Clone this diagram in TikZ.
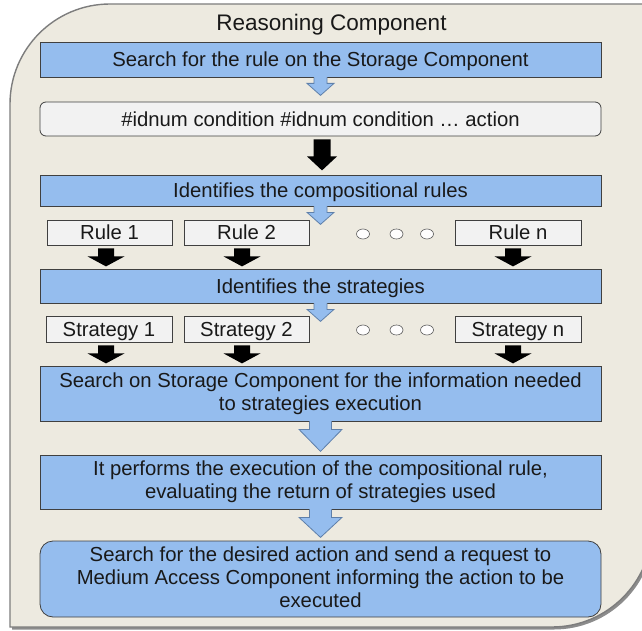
\documentclass[tikz,border=0pt]{standalone}
\usepackage{fontspec}
\setmainfont{Liberation Sans}
\usetikzlibrary{shapes.geometric}
\definecolor{framebg}{RGB}{237,234,224}
\definecolor{frameedge}{RGB}{125,125,125}
\definecolor{boxblue}{RGB}{149,189,238}
\definecolor{arrowedge}{RGB}{95,128,170}
\definecolor{txt}{RGB}{25,25,25}
\definecolor{lightbox}{RGB}{242,242,242}
\tikzset{
  base/.style={font=\fontsize{20.3}{23}\selectfont, text=txt, inner sep=0pt, align=center,
    execute at begin node={\rule{0pt}{19pt}}, execute at end node={\rule[-4.2pt]{0pt}{4.2pt}}},
  multi/.style={execute at begin node={\rule{0pt}{24pt}}},
  bluebox/.style={base, draw=black!75, line width=0.8pt, fill=boxblue, minimum width=561pt},
  greybox/.style={base, draw=black!75, line width=0.8pt, fill=lightbox},
  dotnode/.style={ellipse, draw=black!65, line width=0.6pt, fill=white!92!framebg, minimum width=13pt, minimum height=10pt, inner sep=0pt},
  pics/bluearr/.style n args={4}{code={
    \fill[boxblue] (-#1,-1) -- (-#1,#2) -- (-#3,#2) -- (0,#2+#4) -- (#3,#2) -- (#1,#2) -- (#1,-1) -- cycle;
    \draw[arrowedge, line width=0.8pt, line join=miter] (-#1,0) -- (-#1,#2) -- (-#3,#2) -- (0,#2+#4) -- (#3,#2) -- (#1,#2) -- (#1,0);
  }},
  pics/blackarr/.style n args={4}{code={
    \fill[black] (-#1,0) -- (-#1,#2) -- (-#3,#2) -- (0,#2+#4) -- (#3,#2) -- (#1,#2) -- (#1,0) -- cycle;
  }}
}
\begin{document}
\begin{tikzpicture}[x=1pt,y=-1pt]
\useasboundingbox (0,0) rectangle (642,631);
% outer frame with shadow
\fill[black!45] (12,629.5) -- (12,106) .. controls (12,50.8) and (56.8,6) .. (112,6) -- (654,6) -- (654,529.5) .. controls (654,584.7) and (609.2,629.5) .. (554,629.5) -- cycle;
\draw[frameedge, fill=framebg, line width=1.4pt] (10,627) -- (10,104) .. controls (10,48.8) and (54.8,4) .. (110,4) -- (652,4) -- (652,527) .. controls (652,582.2) and (607.2,627) .. (552,627) -- cycle;

\node[base, font=\fontsize{22.5}{26}\selectfont] (title) at (331.5,23.5) {Reasoning Component};

\node[bluebox, minimum height=35pt] (b1) at (320.5,59.5) {Search for the rule on the Storage Component};
\node[greybox, rounded corners=6pt, minimum width=561pt, minimum height=34pt] (g) at (320.5,119) {\#idnum condition \#idnum condition … action};
\node[bluebox, minimum height=31pt] (b2) at (320.5,190.5) {Identifies the compositional rules};

\node[greybox, minimum width=125pt, minimum height=25pt] (r1) at (109.5,232.5) {Rule 1};
\node[greybox, minimum width=125pt, minimum height=25pt] (r2) at (246.5,232.5) {Rule 2};
\node[greybox, minimum width=126pt, minimum height=25pt] (rn) at (518,232.5) {Rule n};
\node[dotnode] (rd1) at (363,234) {};
\node[dotnode] (rd2) at (396.5,234) {};
\node[dotnode] (rd3) at (427,234) {};

\node[bluebox, minimum height=34pt] (b3) at (320.5,286) {Identifies the strategies};

\node[greybox, minimum width=126pt, minimum height=26pt] (s1) at (109,329) {Strategy 1};
\node[greybox, minimum width=125pt, minimum height=26pt] (s2) at (246.5,329) {Strategy 2};
\node[greybox, minimum width=126pt, minimum height=26pt] (sn) at (518,329) {Strategy n};
\node[dotnode] (sd1) at (363,330) {};
\node[dotnode] (sd2) at (396.5,330) {};
\node[dotnode] (sd3) at (427,330) {};

\node[bluebox, multi, minimum height=55pt] (b4) at (320.5,393.5) {Search on Storage Component for the information needed\\to strategies execution};
\node[bluebox, multi, minimum height=54pt] (b5) at (320.5,482) {It performs the execution of the compositional rule,\\evaluating the return of strategies used};
\node[bluebox, multi, rounded corners=13pt, minimum height=76pt] (b6) at (320.5,579) {Search for the desired action and send a request to\\Medium Access Component informing the action to be\\executed};

% connectors (block arrows)
\pic at (b1.south) {bluearr={6.5}{6}{13.5}{12}};
\pic at ([xshift=1.5pt,yshift=-3pt]g.south) {blackarr={8.5}{17}{15}{14}};
\pic at (b2.south) {bluearr={6.5}{6}{13.5}{12}};
\pic at ([xshift=-3.5pt,yshift=-3pt]r1.south) {blackarr={8}{8}{18.5}{10}};
\pic at ([xshift=-4.5pt,yshift=-3pt]r2.south) {blackarr={8}{8}{18.5}{10}};
\pic at ([xshift=-5pt,yshift=-3pt]rn.south) {blackarr={8}{8}{18.5}{10}};
\pic at (b3.south) {bluearr={6.5}{6}{13.5}{12}};
\pic at ([xshift=-3pt,yshift=-3pt]s1.south) {blackarr={8}{8}{18.5}{10}};
\pic at ([xshift=-4.5pt,yshift=-3pt]s2.south) {blackarr={8}{8}{18.5}{10}};
\pic at ([xshift=-5pt,yshift=-3pt]sn.south) {blackarr={8}{8}{18.5}{10}};
\pic at (b4.south) {bluearr={11}{8}{21.5}{22}};
\pic at (b5.south) {bluearr={11}{8}{21.5}{20}};
\end{tikzpicture}
\end{document}
